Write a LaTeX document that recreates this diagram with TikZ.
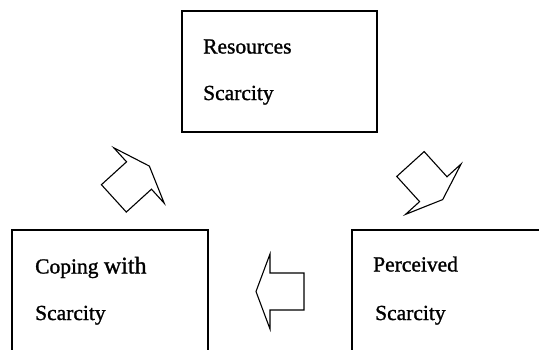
\documentclass[tikz,border=0pt]{standalone}
\usepackage{fontspec}
\setmainfont{Liberation Serif}
\newfontfamily\lblfont[FakeBold=1.2]{Liberation Serif}
\begin{document}
\begin{tikzpicture}[x=1pt,y=-1pt,
  boxline/.style={draw=black,line width=1.2pt},
  lbl/.style={anchor=base west,inner sep=0pt,font=\lblfont\fontsize{21.5}{24}\selectfont},
  blockarrow/.style={draw=black,line width=1.1pt,fill=white,line join=miter}]
\useasboundingbox (0,0) rectangle (539,349);
\clip (0,0) rectangle (539,349);
% boxes
\node[boxline,minimum width=195pt,minimum height=121pt,inner sep=0pt] (top) at (279.5,71.5) {};
\node[boxline,minimum width=196pt,minimum height=140pt,inner sep=0pt] (cope) at (110,300) {};
\node[boxline,minimum width=210pt,minimum height=140pt,inner sep=0pt] (perc) at (457,300) {};
% labels
\node[lbl] (t1) at (203,53.5) {Resources};
\node[lbl] (t2) at (203,100) {Scarcity};
\node[lbl] (c1) at (35,273.5) {Coping {\fontsize{24}{26}\selectfont with}};
\node[lbl] (c2) at (35,320) {Scarcity};
\node[lbl] (p1) at (373,271.5) {Perceived};
\node[lbl] (p2) at (375,320) {Scarcity};
% block arrows
\def\arrowshape{(-34,18.5) -- (0,18.5) -- (0,37.5) -- (14,0) -- (0,-37.5) -- (0,-18.5) -- (-34,-18.5) -- cycle}
\draw[blockarrow,shift={(139,175.5)},rotate=42.3] \arrowshape;
\draw[blockarrow,shift={(433.3,189.2)},rotate=-47.8] \arrowshape;
\draw[blockarrow,shift={(270,291.5)},rotate=180] \arrowshape;
\end{tikzpicture}
\end{document}
